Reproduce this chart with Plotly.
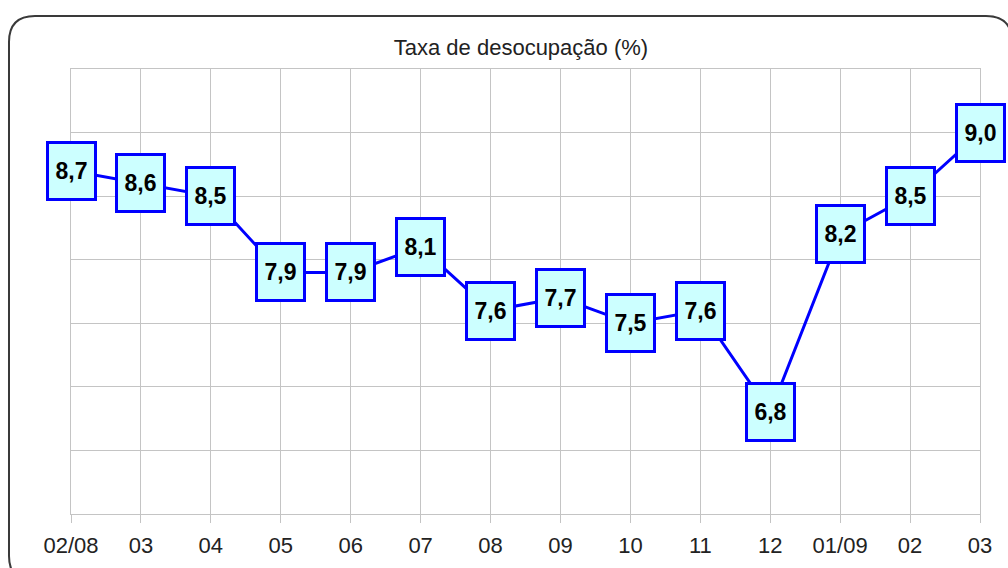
import plotly.graph_objects as go

categories = ["02/08", "03", "04", "05", "06", "07", "08", "09", "10", "11", "12", "01/09", "02", "03"]
values = [8.7, 8.6, 8.5, 7.9, 7.9, 8.1, 7.6, 7.7, 7.5, 7.6, 6.8, 8.2, 8.5, 9.0]
title_text = "Taxa de desocupação (%)"

W, H = 1008, 568
L, R, T, B = 71, 28, 69, 54
PW, PH = W - L - R, H - T - B

def px_to_paper(px, py):
    return (px - L) / PW, (H - B - py) / PH

xs = list(range(len(categories)))

fig = go.Figure()
fig.add_trace(go.Scatter(
    x=xs, y=values, mode="lines",
    line=dict(color="#0000ff", width=3),
    hoverinfo="skip", showlegend=False,
))

for xi, v in zip(xs, values):
    fig.add_annotation(
        x=xi, y=v, xref="x", yref="y",
        text="<b>" + f"{v:.1f}".replace(".", ",") + "</b>",
        showarrow=False, xanchor="center", yanchor="middle",
        width=45, height=54, borderpad=0, borderwidth=3,
        bordercolor="#0000ff", bgcolor="#ccffff",
        font=dict(family="Liberation Sans, Arial", size=23, color="#000000"),
    )

# rounded frame
left, right, top, bottom, r = 9, 1012, 16, 582, 26
def P(px, py):
    a, b = px_to_paper(px, py)
    return f"{a:.5f},{b:.5f}"
path = (f"M {P(left + r, top)} L {P(right - r, top)} Q {P(right, top)} {P(right, top + r)} "
        f"L {P(right, bottom - r)} Q {P(right, bottom)} {P(right - r, bottom)} "
        f"L {P(left + r, bottom)} Q {P(left, bottom)} {P(left, bottom - r)} "
        f"L {P(left, top + r)} Q {P(left, top)} {P(left + r, top)} Z")
fig.add_shape(type="path", path=path, xref="paper", yref="paper",
              line=dict(color="#3a3a3a", width=2), fillcolor="rgba(0,0,0,0)", layer="below")

fig.update_layout(
    width=W, height=H,
    margin=dict(l=L, r=R, t=T, b=B, autoexpand=False),
    paper_bgcolor="white", plot_bgcolor="white",
    title=dict(text=title_text, x=0.495, xref="paper", xanchor="center",
               y=1 - 47 / H, yref="container", yanchor="middle", automargin=False,
               font=dict(family="Liberation Sans, Arial", size=22, color="#222222")),
    xaxis=dict(
        range=[0, len(categories) - 1], tickvals=xs, ticktext=categories,
        showgrid=True, gridcolor="#c4c4c4", gridwidth=1,
        showline=True, linecolor="#c4c4c4", linewidth=1, mirror=True,
        ticks="outside", ticklen=8, tickcolor="#c4c4c4",
        ticklabelstandoff=4, automargin=False,
        tickfont=dict(family="Liberation Sans, Arial", size=22, color="#222222"),
        zeroline=False, fixedrange=True,
    ),
    yaxis=dict(
        range=[6.0, 9.5], dtick=0.5, tick0=6.0,
        showgrid=True, gridcolor="#c4c4c4", gridwidth=1,
        showline=True, linecolor="#c4c4c4", linewidth=1, mirror=True,
        showticklabels=False, ticks="", zeroline=False, fixedrange=True,
        automargin=False,
    ),
)

fig.write_html(
    "out.html",
    config={"displayModeBar": False},
    post_script="document.body.style.margin='0';document.body.style.overflow='hidden';",
)
